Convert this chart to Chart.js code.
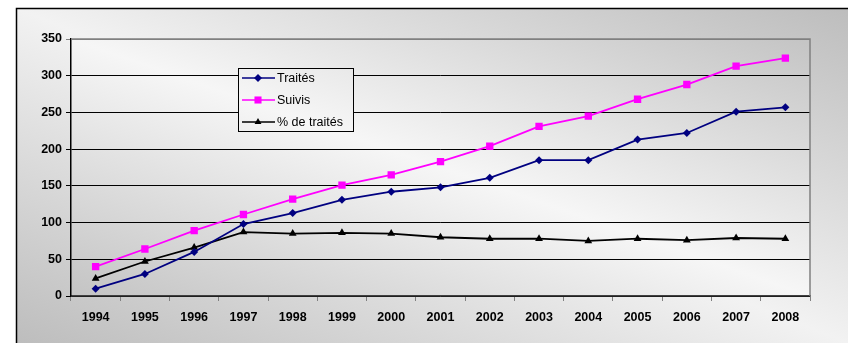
<!DOCTYPE html>
<html>
<head>
<meta charset="utf-8">
<script src="https://cdn.jsdelivr.net/npm/chart.js@4/dist/chart.umd.min.js"></script>
<style>
html,body{margin:0;padding:0;background:#fff;}
canvas{display:block;}
</style>
</head>
<body>
<canvas id="c" width="848" height="343"></canvas>
<script>
const years = ['1994','1995','1996','1997','1998','1999','2000','2001','2002','2003','2004','2005','2006','2007','2008'];
const traites = [10, 30, 60, 98, 113, 131, 142, 148, 161, 185, 185, 213, 222, 251, 257];
const suivis = [40, 64, 89, 111, 132, 151, 165, 183, 204, 231, 245, 268, 288, 313, 324];
const pctTraites = [24, 47, 66, 87, 85, 86, 85, 80, 78, 78, 75, 78, 76, 79, 78];
const yTicks = [0, 50, 100, 150, 200, 250, 300, 350];
const seriesNames = ['Traités', 'Suivis', '% de traités'];

function diagGradient(ctx, x, y, w, h, stops) {
  // gradient along bottom-left -> top-right in normalized box coordinates
  ctx.save();
  ctx.translate(x, y);
  ctx.scale(w, h);
  const g = ctx.createLinearGradient(0, 1, 1, 0);
  stops.forEach(s => g.addColorStop(s[0], s[1]));
  ctx.fillStyle = g;
  ctx.fillRect(0, 0, 1, 1);
  ctx.restore();
}

function drawMarker(ctx, style, x, y, r, color) {
  ctx.save();
  ctx.fillStyle = color;
  ctx.strokeStyle = color;
  ctx.beginPath();
  if (style === 'rectRot') {
    ctx.moveTo(x, y - r); ctx.lineTo(x + r, y); ctx.lineTo(x, y + r); ctx.lineTo(x - r, y);
  } else if (style === 'rect') {
    const s = r * Math.SQRT1_2;
    ctx.rect(x - s, y - s, 2 * s, 2 * s);
  } else {
    ctx.moveTo(x, y - r);
    ctx.lineTo(x + r * Math.sin(Math.PI * 2 / 3), y - r * Math.cos(Math.PI * 2 / 3));
    ctx.lineTo(x + r * Math.sin(Math.PI * 4 / 3), y - r * Math.cos(Math.PI * 4 / 3));
  }
  ctx.closePath();
  ctx.fill();
  ctx.restore();
}

const bgPlugin = {
  id: 'bg',
  beforeDraw(chart) {
    const ctx = chart.ctx;
    const W = chart.width, H = chart.height;
    ctx.save();
    ctx.fillStyle = '#ffffff';
    ctx.fillRect(0, 0, W, H);
    diagGradient(ctx, 16, 8, W - 16, H - 8, [[0, '#bdbdbd'], [0.5, '#f2f2f2'], [1, '#bdbdbd']]);
    const a = chart.chartArea;
    diagGradient(ctx, a.left, a.top, a.right - a.left, a.bottom - a.top, [[0, '#c4c4c4'], [0.5, '#f6f6f6'], [1, '#c4c4c4']]);
    ctx.strokeStyle = '#000';
    ctx.lineWidth = 1.5;
    ctx.beginPath();
    ctx.moveTo(16.5, H);
    ctx.lineTo(16.5, 8.5);
    ctx.lineTo(W, 8.5);
    ctx.stroke();
    ctx.restore();
  },
  beforeDatasetsDraw(chart) {
    const ctx = chart.ctx;
    const a = chart.chartArea;
    ctx.save();
    ctx.strokeStyle = '#808080';
    ctx.lineWidth = 1.5;
    ctx.beginPath();
    ctx.moveTo(a.left, a.top);
    ctx.lineTo(a.right, a.top);
    ctx.lineTo(a.right, a.bottom);
    ctx.stroke();
    ctx.restore();
  },
  afterDraw(chart) {
    const ctx = chart.ctx;
    const a = chart.chartArea;
    const bx = 238, by = 68, bw = 115, bh = 63;
    ctx.save();
    // fill legend with the plot gradient
    ctx.beginPath();
    ctx.rect(bx, by, bw, bh);
    ctx.clip();
    diagGradient(ctx, a.left, a.top, a.right - a.left, a.bottom - a.top, [[0, '#c4c4c4'], [0.5, '#f6f6f6'], [1, '#c4c4c4']]);
    ctx.restore();
    ctx.save();
    ctx.strokeStyle = '#000';
    ctx.lineWidth = 1;
    ctx.strokeRect(bx + 0.5, by + 0.5, bw, bh);
    ctx.font = '12.5px "Liberation Sans", Arial, sans-serif';
    ctx.textBaseline = 'middle';
    ctx.fillStyle = '#000';
    chart.data.datasets.forEach((ds, i) => {
      const y = by + 10 + i * 22;
      ctx.strokeStyle = ds.borderColor;
      ctx.lineWidth = 1.5;
      ctx.beginPath();
      ctx.moveTo(bx + 4, y);
      ctx.lineTo(bx + 37, y);
      ctx.stroke();
      drawMarker(ctx, ds.pointStyle, bx + 20, y, ds.pointStyle === 'rect' ? 5 : 4, ds.borderColor);
      ctx.fillStyle = '#000';
      ctx.fillText(ds.label, bx + 39, y + 0.5);
    });
    ctx.restore();
  }
};

const tickFont = { family: '"Liberation Sans", Arial, sans-serif', size: 12.5, weight: 'bold' };

new Chart(document.getElementById('c'), {
  type: 'line',
  data: {
    labels: years,
    datasets: [
      { label: seriesNames[0], data: traites, borderColor: '#000080', backgroundColor: '#000080', borderWidth: 1.8, pointStyle: 'rectRot', pointRadius: 4, pointBorderWidth: 0, tension: 0 },
      { label: seriesNames[1], data: suivis, borderColor: '#ff00ff', backgroundColor: '#ff00ff', borderWidth: 1.8, pointStyle: 'rect', pointRadius: 5.2, pointBorderWidth: 0, tension: 0 },
      { label: seriesNames[2], data: pctTraites, borderColor: '#000000', backgroundColor: '#000000', borderWidth: 1.8, pointStyle: 'triangle', pointRadius: 4.5, pointBorderWidth: 0, tension: 0 }
    ]
  },
  options: {
    responsive: false,
    animation: false,
    devicePixelRatio: 1,
    layout: { padding: { left: 0, right: 38, top: 39, bottom: 0 } },
    plugins: { legend: { display: false }, tooltip: { enabled: false } },
    scales: {
      x: {
        type: 'category',
        offset: true,
        grid: { offset: true, drawOnChartArea: false, drawTicks: true, tickLength: 5, color: '#808080', lineWidth: 1 },
        border: { display: true, color: '#404040', width: 1.5 },
        ticks: { font: tickFont, color: '#000', padding: 9, maxRotation: 0, autoSkip: false },
        afterFit(s) { s.height = 47; }
      },
      y: {
        min: 0, max: 350,
        afterBuildTicks(s) { s.ticks = yTicks.map(v => ({ value: v })); },
        grid: {
          drawTicks: true, tickLength: 5,
          color: c => (c.tick && c.tick.value === 350) ? '#808080' : '#000000',
          lineWidth: 1
        },
        border: { display: true, color: '#000', width: 1.5 },
        ticks: { font: tickFont, color: '#000', padding: 4 },
        afterFit(s) { s.width = 71; }
      }
    }
  },
  plugins: [bgPlugin]
});
</script>
</body>
</html>
